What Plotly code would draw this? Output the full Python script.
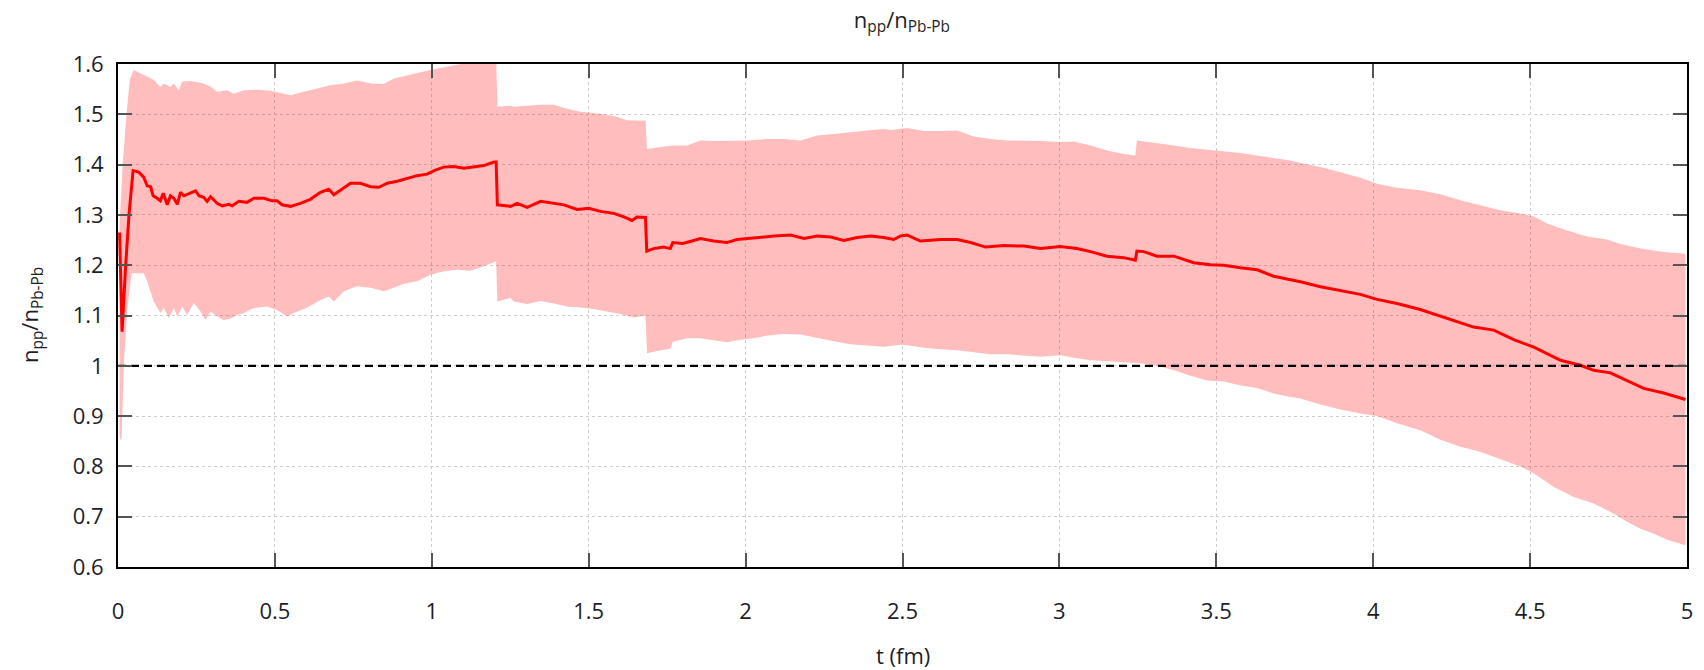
import plotly.graph_objects as go

# Mean ratio n_pp / n_Pb-Pb versus time t (fm)
t_mean = [
    0.005, 0.013, 0.024, 0.035, 0.048, 0.066, 0.082, 0.093, 0.104, 0.112,
    0.125, 0.135, 0.144, 0.157, 0.167, 0.178, 0.189, 0.199, 0.210, 0.226,
    0.247, 0.258, 0.273, 0.284, 0.295, 0.316, 0.332, 0.353, 0.364, 0.385,
    0.411, 0.433, 0.465, 0.491, 0.507, 0.523, 0.550, 0.581, 0.613, 0.645,
    0.672, 0.688, 0.720, 0.741, 0.773, 0.805, 0.831, 0.858, 0.890, 0.922,
    0.953, 0.985, 1.011, 1.038, 1.070, 1.102, 1.134, 1.166, 1.198, 1.205,
    1.209, 1.251, 1.272, 1.304, 1.347, 1.389, 1.421, 1.463, 1.500, 1.537,
    1.580, 1.612, 1.638, 1.654, 1.681, 1.685, 1.707, 1.739, 1.760, 1.768,
    1.800, 1.829, 1.856, 1.898, 1.940, 1.973, 2.005, 2.047, 2.090, 2.143,
    2.186, 2.228, 2.271, 2.313, 2.356, 2.398, 2.440, 2.472, 2.494, 2.515,
    2.557, 2.621, 2.674, 2.717, 2.765, 2.823, 2.887, 2.940, 3.003, 3.056,
    3.099, 3.152, 3.205, 3.242, 3.247, 3.269, 3.311, 3.365, 3.428, 3.481,
    3.524, 3.577, 3.630, 3.683, 3.736, 3.768, 3.832, 3.896, 3.959, 4.012,
    4.076, 4.150, 4.235, 4.320, 4.384, 4.448, 4.512, 4.597, 4.660, 4.703,
    4.756, 4.809, 4.862, 4.926, 4.995,
]
ratio_mean = [
    1.265, 1.068, 1.195, 1.300, 1.388, 1.385, 1.375, 1.358, 1.356, 1.338,
    1.333, 1.328, 1.343, 1.320, 1.338, 1.333, 1.321, 1.345, 1.338, 1.342,
    1.348, 1.338, 1.335, 1.327, 1.336, 1.323, 1.318, 1.321, 1.318, 1.327,
    1.325, 1.333, 1.333, 1.328, 1.328, 1.320, 1.317, 1.323, 1.331, 1.345,
    1.351, 1.340, 1.355, 1.363, 1.363, 1.356, 1.355, 1.363, 1.367, 1.373,
    1.378, 1.381, 1.389, 1.395, 1.396, 1.393, 1.395, 1.398, 1.405, 1.405,
    1.320, 1.317, 1.323, 1.315, 1.327, 1.323, 1.320, 1.311, 1.313, 1.307,
    1.303, 1.296, 1.289, 1.296, 1.295, 1.228, 1.233, 1.236, 1.233, 1.245,
    1.243, 1.248, 1.253, 1.248, 1.245, 1.251, 1.253, 1.255, 1.258, 1.260,
    1.253, 1.258, 1.256, 1.249, 1.255, 1.258, 1.255, 1.251, 1.258, 1.260,
    1.248, 1.251, 1.251, 1.245, 1.236, 1.239, 1.238, 1.233, 1.237, 1.233,
    1.227, 1.218, 1.215, 1.210, 1.228, 1.227, 1.218, 1.218, 1.205, 1.201,
    1.200, 1.195, 1.191, 1.178, 1.171, 1.167, 1.157, 1.149, 1.142, 1.132,
    1.124, 1.112, 1.094, 1.077, 1.071, 1.052, 1.037, 1.011, 1.001, 0.991,
    0.986, 0.971, 0.955, 0.946, 0.933,
]

# Upper edge of the uncertainty band
t_upper = [
    0.005, 0.015, 0.027, 0.038, 0.0505, 0.072, 0.093, 0.114, 0.135, 0.146,
    0.167, 0.178, 0.194, 0.205, 0.231, 0.274, 0.295, 0.316, 0.348, 0.369,
    0.401, 0.443, 0.486, 0.528, 0.550, 0.592, 0.635, 0.677, 0.720, 0.762,
    0.805, 0.847, 0.879, 0.932, 0.975, 1.017, 1.060, 1.102, 1.145, 1.205,
    1.209, 1.251, 1.261, 1.304, 1.347, 1.389, 1.431, 1.474, 1.506, 1.548,
    1.590, 1.622, 1.681, 1.686, 1.729, 1.771, 1.814, 1.856, 1.909, 1.962,
    2.005, 2.069, 2.122, 2.175, 2.228, 2.281, 2.334, 2.387, 2.440, 2.462,
    2.515, 2.568, 2.621, 2.674, 2.727, 2.780, 2.834, 2.887, 2.940, 3.003,
    3.046, 3.099, 3.152, 3.205, 3.242, 3.247, 3.311, 3.365, 3.418, 3.481,
    3.524, 3.577, 3.630, 3.683, 3.736, 3.768, 3.832, 3.896, 3.959, 4.012,
    4.076, 4.150, 4.214, 4.278, 4.341, 4.405, 4.469, 4.512, 4.554, 4.618,
    4.682, 4.745, 4.788, 4.852, 4.926, 4.995,
]
ratio_upper = [
    1.280, 1.400, 1.500, 1.570, 1.588, 1.581, 1.575, 1.568, 1.555, 1.561,
    1.555, 1.561, 1.548, 1.565, 1.566, 1.561, 1.555, 1.545, 1.548, 1.541,
    1.548, 1.549, 1.547, 1.541, 1.538, 1.545, 1.551, 1.558, 1.561, 1.567,
    1.561, 1.560, 1.571, 1.578, 1.585, 1.591, 1.596, 1.600, 1.606, 1.615,
    1.515, 1.517, 1.515, 1.517, 1.519, 1.519, 1.511, 1.505, 1.503, 1.500,
    1.495, 1.488, 1.487, 1.431, 1.435, 1.438, 1.438, 1.448, 1.447, 1.448,
    1.448, 1.451, 1.451, 1.448, 1.458, 1.461, 1.465, 1.468, 1.471, 1.469,
    1.473, 1.467, 1.467, 1.468, 1.456, 1.451, 1.448, 1.448, 1.447, 1.445,
    1.446, 1.438, 1.428, 1.421, 1.418, 1.448, 1.443, 1.438, 1.433, 1.429,
    1.427, 1.423, 1.418, 1.413, 1.408, 1.403, 1.395, 1.385, 1.374, 1.362,
    1.354, 1.349, 1.341, 1.329, 1.319, 1.309, 1.303, 1.297, 1.283, 1.269,
    1.257, 1.251, 1.242, 1.233, 1.226, 1.223,
]

# Lower edge of the uncertainty band
t_lower = [
    0.005, 0.011, 0.019, 0.029, 0.040, 0.045, 0.072, 0.082, 0.093, 0.114,
    0.135, 0.146, 0.162, 0.178, 0.189, 0.205, 0.220, 0.242, 0.263, 0.279,
    0.295, 0.316, 0.337, 0.359, 0.380, 0.401, 0.433, 0.475, 0.507, 0.539,
    0.560, 0.600, 0.645, 0.672, 0.688, 0.720, 0.762, 0.805, 0.847, 0.879,
    0.911, 0.953, 0.996, 1.038, 1.081, 1.123, 1.166, 1.205, 1.209, 1.251,
    1.261, 1.304, 1.347, 1.389, 1.431, 1.474, 1.516, 1.558, 1.601, 1.644,
    1.681, 1.686, 1.729, 1.760, 1.768, 1.814, 1.856, 1.898, 1.940, 1.983,
    2.026, 2.069, 2.122, 2.175, 2.228, 2.281, 2.334, 2.387, 2.440, 2.494,
    2.515, 2.568, 2.621, 2.674, 2.727, 2.780, 2.834, 2.887, 2.940, 3.003,
    3.046, 3.099, 3.152, 3.205, 3.258, 3.311, 3.365, 3.418, 3.471, 3.524,
    3.577, 3.630, 3.683, 3.736, 3.768, 3.832, 3.896, 3.959, 4.012, 4.076,
    4.150, 4.214, 4.278, 4.341, 4.405, 4.469, 4.512, 4.576, 4.639, 4.703,
    4.767, 4.809, 4.852, 4.894, 4.937, 4.995,
]
ratio_lower = [
    0.860, 0.850, 1.008, 1.108, 1.168, 1.184, 1.184, 1.184, 1.168, 1.128,
    1.105, 1.115, 1.095, 1.115, 1.098, 1.118, 1.101, 1.125, 1.108, 1.091,
    1.108, 1.098, 1.091, 1.094, 1.101, 1.105, 1.115, 1.118, 1.111, 1.098,
    1.105, 1.115, 1.131, 1.138, 1.128, 1.148, 1.158, 1.155, 1.148, 1.155,
    1.163, 1.168, 1.181, 1.188, 1.191, 1.189, 1.198, 1.208, 1.128, 1.135,
    1.128, 1.123, 1.129, 1.124, 1.118, 1.116, 1.113, 1.108, 1.103, 1.096,
    1.100, 1.025, 1.031, 1.034, 1.048, 1.055, 1.055, 1.051, 1.047, 1.052,
    1.055, 1.060, 1.063, 1.062, 1.055, 1.049, 1.043, 1.041, 1.038, 1.042,
    1.041, 1.036, 1.033, 1.031, 1.027, 1.023, 1.023, 1.020, 1.018, 1.021,
    1.016, 1.011, 1.008, 1.007, 1.005, 1.000, 0.991, 0.980, 0.971, 0.969,
    0.961, 0.956, 0.945, 0.938, 0.935, 0.923, 0.913, 0.905, 0.900, 0.886,
    0.872, 0.853, 0.839, 0.829, 0.815, 0.800, 0.786, 0.759, 0.739, 0.726,
    0.706, 0.690, 0.676, 0.666, 0.654, 0.643,
]

# Reference level (ratio = 1)
t_ref = [0.0, 5.0]
ratio_ref = [1.0, 1.0]

x_ticks = [0, 0.5, 1, 1.5, 2, 2.5, 3, 3.5, 4, 4.5, 5]
x_tick_text = ["0", "0.5", "1", "1.5", "2", "2.5", "3", "3.5", "4", "4.5", "5"]
y_ticks = [0.6, 0.7, 0.8, 0.9, 1.0, 1.1, 1.2, 1.3, 1.4, 1.5, 1.6]
y_tick_text = ["0.6", "0.7", "0.8", "0.9", "1", "1.1", "1.2", "1.3", "1.4", "1.5", "1.6"]

FONT = "Open Sans"
TEXT = "#1e1e28"

fig = go.Figure()

# shaded band: upper edge forward, lower edge backward
fig.add_trace(go.Scatter(
    x=t_upper + t_lower[::-1],
    y=ratio_upper + ratio_lower[::-1],
    fill="toself",
    fillcolor="rgba(255,0,0,0.26)",
    line=dict(width=0),
    mode="lines",
    hoverinfo="skip",
    showlegend=False,
))

fig.add_trace(go.Scatter(
    x=t_mean, y=ratio_mean, mode="lines",
    line=dict(color="#ff0000", width=3),
    showlegend=False,
))

fig.add_trace(go.Scatter(
    x=t_ref, y=ratio_ref, mode="lines",
    line=dict(color="#000000", width=2.2, dash="8px,5px"),
    showlegend=False,
))

axis_common = dict(
    showline=True, linecolor="#000000", linewidth=2, mirror="ticks",
    ticks="inside", ticklen=14, tickwidth=2, tickcolor="#555555",
    showgrid=True, gridcolor="#cfcfcf", gridwidth=1, griddash="dot",
    zeroline=False,
    tickfont=dict(family=FONT, size=22, color=TEXT),
)

fig.update_xaxes(range=[0, 5], tickmode="array", tickvals=x_ticks,
                 ticktext=x_tick_text, ticklabelstandoff=24, **axis_common)
fig.update_yaxes(range=[0.6, 1.6], tickmode="array", tickvals=y_ticks,
                 ticktext=y_tick_text, ticklabelstandoff=8, **axis_common)

fig.update_layout(
    width=1704, height=670,
    margin=dict(l=117.5, r=17.3, t=64, b=103),
    plot_bgcolor="white", paper_bgcolor="white",
    font=dict(family=FONT, size=22, color=TEXT),
    title=dict(text="n<sub>pp</sub>/n<sub>Pb-Pb</sub>", x=0.5293, xanchor="center",
               y=1 - 20 / 670, yanchor="middle", yref="container",
               font=dict(family=FONT, size=22, color=TEXT)),
    annotations=[
        dict(text="t (fm)", xref="paper", yref="paper", x=0.5, y=-0.175,
             xanchor="center", yanchor="middle", showarrow=False,
             font=dict(family=FONT, size=22, color=TEXT)),
        dict(text="n<sub>pp</sub>/n<sub>Pb-Pb</sub>", xref="paper", yref="paper",
             x=-(117.5 - 30) / 1569.2, y=0.5, textangle=-90,
             xanchor="center", yanchor="middle", showarrow=False,
             font=dict(family=FONT, size=22, color=TEXT)),
    ],
)

fig.write_html("out.html")
